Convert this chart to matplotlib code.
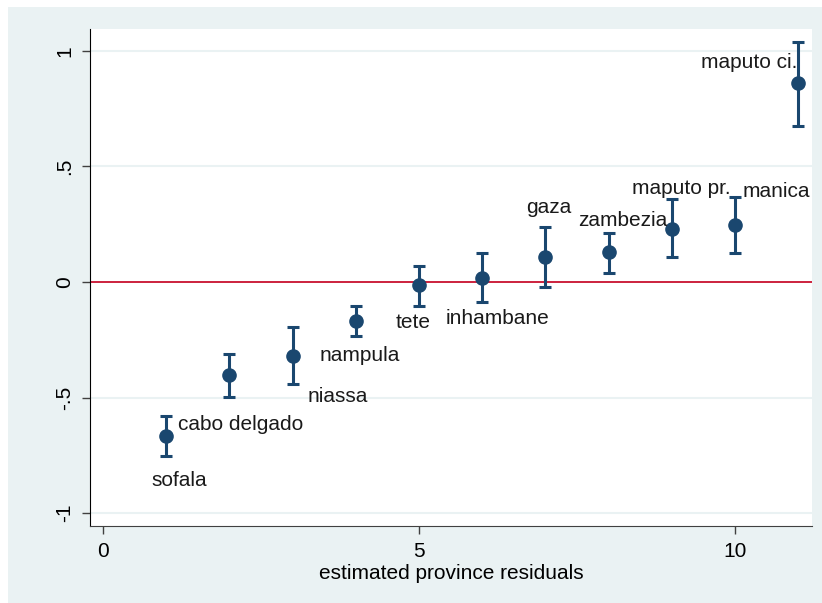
import matplotlib
matplotlib.use("Agg")
import matplotlib.pyplot as plt
from matplotlib.patches import Rectangle

plt.rcParams['font.family'] = ['Liberation Sans', 'DejaVu Sans']

# Province residual estimates with confidence bounds, ranked
provinces = ["sofala", "cabo delgado", "niassa", "nampula", "tete", "inhambane",
             "gaza", "zambezia", "maputo pr.", "manica", "maputo ci."]
rank = [1, 2, 3, 4, 5, 6, 7, 8, 9, 10, 11]
estimate = [-0.667, -0.403, -0.320, -0.169, -0.013, 0.017, 0.108, 0.130, 0.229, 0.247, 0.861]
upper = [-0.580, -0.312, -0.195, -0.104, 0.069, 0.126, 0.238, 0.212, 0.359, 0.368, 1.039]
lower = [-0.753, -0.498, -0.442, -0.234, -0.104, -0.087, -0.022, 0.039, 0.108, 0.126, 0.675]

# label offsets from each marker (pixels)
label_offsets = [(13, -44), (11, -49), (45, -41), (4, -34), (-6, -37), (15, -40),
                 (3, 50), (14, 31), (10, 41), (41, 33), (-49, 21)]

xticks = [0, 5, 10]
yticks = [-1, -0.5, 0, 0.5, 1]
yticklabels = ["-1", "-.5", "0", ".5", "1"]

navy = (26 / 255, 71 / 255, 111 / 255)
bg = (234 / 255, 242 / 255, 243 / 255)
red = (200 / 255, 16 / 255, 46 / 255)

fig = plt.figure(figsize=(8.22, 6.03), dpi=100)
fig.patch.set_facecolor("white")
fig.add_artist(Rectangle((8 / 822, 0), 1 - 8 / 822, 1 - 7 / 603,
                         transform=fig.transFigure, facecolor=bg,
                         edgecolor="none", zorder=-10))

ax = fig.add_axes([90 / 822, 77 / 603, 722 / 822, 497 / 603])
ax.set_facecolor("white")

ax.set_xlim(-0.206, 11.22)
ax.set_ylim(-1.056, 1.095)

for t in yticks:
    if t != 0:
        ax.axhline(t, color=bg, lw=1.5, zorder=1)
ax.axhline(0, color=red, lw=1.3, zorder=2)

yerr = [[e - l for e, l in zip(estimate, lower)], [u - e for e, u in zip(estimate, upper)]]
ax.errorbar(rank, estimate, yerr=yerr, fmt="o", color=navy, ms=9.5,
            elinewidth=2.2, capsize=4, capthick=2.2, zorder=3)

for name, x, y, (dx, dy) in zip(provinces, rank, estimate, label_offsets):
    ax.annotate(name, xy=(x, y), xytext=(dx, dy), textcoords="offset pixels",
                ha="center", va="center", fontsize=15, color="#1a1a1a", zorder=4)

ax.spines["top"].set_visible(False)
ax.spines["right"].set_visible(False)
ax.spines["left"].set_color("black")
ax.spines["bottom"].set_color("#404040")

ax.set_xticks(xticks)
ax.set_xticklabels([str(t) for t in xticks])
ax.set_yticks(yticks)
ax.set_yticklabels(yticklabels, rotation=90, va="center")
ax.tick_params(axis="both", labelsize=15, length=5.5, width=1, color="#404040", pad=6)
ax.set_xlabel("estimated province residuals", fontsize=15, labelpad=2)

fig.savefig("out.png", dpi=100, facecolor=fig.get_facecolor())
